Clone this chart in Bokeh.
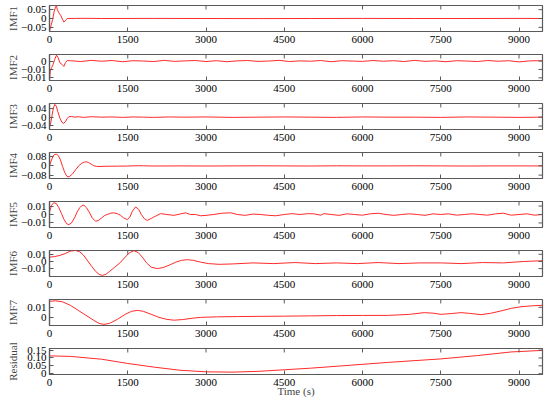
import math
from bokeh.plotting import figure
from bokeh.layouts import column
from bokeh.models import Range1d, FixedTicker, CustomJSTickFormatter
from bokeh.embed import file_html
from bokeh.resources import INLINE

# ---------------- data ----------------
time_ticks = [0, 1500, 3000, 4500, 6000, 7500, 9000]
x_max = 9450

panel_labels = ["IMF1", "IMF2", "IMF3", "IMF4", "IMF5", "IMF6", "IMF7", "Residual"]

imf1_t = [0, 30, 60, 90, 115, 134, 150, 180, 220, 250, 275, 305, 340, 500, 700, 1000, 2000,
          3000, 4000, 5000, 6000, 7000, 8000, 9000, 9450]
imf1_v = [-0.072, -0.04, -0.005, 0.04, 0.065, 0.072, 0.05, 0.032, 0.015, -0.005, -0.02, -0.012,
          0.0, 0.0005, 0.001, 0.0, 0.0005, 0.0, -0.0005, 0.0, 0.0005, 0.0, 0.0, 0.0005, 0.0]

imf2_t = [0, 15, 40, 70, 100, 134, 165, 200, 240, 275, 305, 340,
          400, 600, 800, 1000, 1200, 1400, 1600, 1800, 2000, 2200, 2400, 2600, 2800,
          3000, 3200, 3400, 3600, 3800, 4000, 4200, 4400, 4600, 4800, 5000, 5200, 5400,
          5600, 5800, 6000, 6200, 6400, 6600, 6800, 7000, 7200, 7400, 7600, 7800, 8000,
          8200, 8400, 8600, 8800, 9000, 9200, 9400, 9450]
imf2_v = [-0.0115, -0.006, -0.004, -0.002, 0.001, 0.0035, 0.002, -0.001, -0.002, -0.0032, -0.001, 0.0003,
          0.0002, -0.0003, 0.0004, -0.0001, 0.0003, -0.0004, 0.0002, 0.0, -0.0003, 0.0004, -0.0002, 0.0001, 0.0003,
          -0.0003, 0.0002, -0.0004, 0.0001, 0.0003, -0.0002, 0.0, 0.0004, -0.0003, 0.0001, -0.0001, 0.0003, -0.0004,
          0.0002, 0.0, -0.0002, 0.0003, -0.0001, 0.0002, -0.0003, 0.0004, -0.0002, 0.0001, -0.0004, 0.0002, 0.0,
          -0.0003, 0.0003, -0.0001, 0.0002, -0.0005, 0.0001, 0.0002, 0.0]

imf3_t = [0, 25, 50, 75, 102, 130, 160, 200, 240, 275, 310, 340, 371, 420, 480, 550, 650, 800,
          1000, 1200, 1400, 1600, 1800, 2000, 2300, 2600, 3000, 3500, 4000, 4500, 5000, 5500,
          6000, 6500, 7000, 7500, 8000, 8500, 9000, 9450]
imf3_v = [-0.046, -0.025, 0.01, 0.042, 0.058, 0.05, 0.025, -0.005, -0.024, -0.028, -0.018,
          -0.006, 0.002, 0.003, 0.0, 0.002, -0.001, 0.002, 0.0, 0.001, -0.001, 0.001, 0.0, -0.001,
          0.001, 0.0, 0.001, -0.001, 0.0, 0.001, 0.0, -0.001, 0.001, 0.0, 0.0, -0.001, 0.001, 0.0,
          -0.001, 0.0]

imf4_t = [0, 30, 60, 90, 130, 170, 210, 250, 290, 330, 355, 390, 440, 500, 560, 620, 670, 705,
          750, 800, 850, 900, 950, 1100, 1300, 1500, 1700, 1800, 2000, 2500, 3000, 3500, 4000,
          4500, 5000, 5500, 6000, 6500, 7000, 7500, 8000, 8500, 9000, 9450]
imf4_v = [0.0, 0.04, 0.075, 0.095, 0.1, 0.088, 0.05, -0.005, -0.055, -0.088, -0.095, -0.09,
          -0.07, -0.035, 0.0, 0.022, 0.032, 0.034, 0.028, 0.014, 0.0, -0.005, -0.006, -0.004,
          -0.003, -0.002, 0.001, 0.0, -0.002, -0.001, -0.002, -0.001, 0.0, -0.001, -0.002, 0.0,
          -0.001, -0.001, 0.0, -0.001, -0.002, -0.001, -0.001, -0.001]

imf5_t = [0, 40, 83, 130, 180, 230, 280, 330, 371, 420, 480, 530, 580, 620, 659, 710, 760, 820,
          883, 940, 1000, 1060, 1107, 1170, 1228, 1300, 1362, 1420, 1491, 1540, 1590, 1650, 1710,
          1760, 1820, 1874, 1940, 2000, 2128, 2250, 2384, 2500, 2608, 2700, 2800, 2900, 3000,
          3150, 3300, 3474, 3600, 3750, 3900, 4050, 4200, 4337, 4500, 4650, 4800, 4950, 5066,
          5200, 5260, 5400, 5550, 5700, 5850, 6000, 6150, 6300, 6450, 6600, 6750, 6900, 7050,
          7200, 7350, 7500, 7650, 7800, 7950, 8100, 8250, 8400, 8550, 8700, 8850, 9000, 9150,
          9300, 9450]
imf5_v = [0.003, 0.011, 0.014, 0.013, 0.008, 0.001, -0.006, -0.011, -0.012, -0.01, -0.004,
          0.003, 0.008, 0.0105, 0.011, 0.008, 0.003, -0.004, -0.008, -0.007, -0.004, -0.001, 0.0,
          0.0015, 0.002, 0.001, -0.001, -0.004, -0.006, -0.003, 0.004, 0.009, 0.006, 0.0, -0.005,
          -0.007, -0.005, -0.003, 0.001, 0.0, -0.001, 0.0005, 0.002, 0.0, 0.0, -0.0015, -0.001,
          0.0, 0.0015, 0.002, 0.0, -0.001, 0.0005, 0.0, -0.001, -0.0015, 0.0, 0.001, 0.0, 0.001,
          0.0008, -0.0008, 0.001, 0.0, -0.001, 0.0008, 0.0, -0.0008, 0.0008, 0.0015, 0.0, -0.001,
          0.0, 0.0008, 0.0, -0.001, 0.0008, 0.0, 0.0008, -0.0008, 0.0, 0.0008, 0.0, -0.0008,
          0.0008, 0.0015, -0.0008, 0.0, 0.0008, -0.0008, 0.0]

imf6_t = [0, 100, 200, 300, 400, 499, 580, 650, 720, 800, 880, 950, 1011, 1080, 1150, 1250,
          1350, 1450, 1530, 1618, 1700, 1780, 1860, 1950, 2066, 2180, 2300, 2420, 2530, 2642,
          2760, 2900, 3050, 3250, 3500, 3900, 4300, 4700, 5100, 5500, 5900, 6300, 6700, 7100,
          7500, 7900, 8300, 8700, 9100, 9450]
imf6_v = [0.006, 0.0068, 0.0085, 0.011, 0.0145, 0.0153, 0.0135, 0.009, 0.002, -0.006, -0.0135,
          -0.018, -0.0195, -0.018, -0.014, -0.008, -0.002, 0.006, 0.012, 0.015, 0.0125, 0.006,
          -0.002, -0.008, -0.01, -0.0085, -0.005, -0.001, 0.0015, 0.0025, 0.0015, -0.001, -0.003,
          -0.004, -0.0035, -0.002, -0.003, -0.0015, -0.003, -0.002, -0.003, -0.0015, -0.003,
          -0.002, -0.002, -0.003, -0.0015, -0.002, 0.0, 0.001]

imf7_t = [0, 115, 250, 400, 550, 700, 850, 950, 1043, 1150, 1300, 1450, 1570, 1683, 1800,
          1950, 2100, 2250, 2384, 2550, 2750, 2897, 3200, 3600, 4000, 4500, 5000, 5500, 6000,
          6500, 6900, 7183, 7350, 7503, 7700, 7887, 8050, 8271, 8450, 8655, 8850, 9039, 9250,
          9450]
imf7_v = [0.016, 0.0165, 0.0155, 0.012, 0.007, 0.002, -0.003, -0.006, -0.007, -0.006, -0.002,
          0.003, 0.006, 0.007, 0.006, 0.003, 0.0, -0.002, -0.0028, -0.0022, -0.0008, 0.0, 0.0005,
          0.0008, 0.001, 0.0012, 0.0015, 0.0018, 0.0019, 0.002, 0.003, 0.0047, 0.0042, 0.003,
          0.0038, 0.0047, 0.004, 0.0027, 0.004, 0.0064, 0.009, 0.0106, 0.0115, 0.012]

res_t = [0, 400, 1000, 1500, 2000, 2500, 3000, 3500, 4000, 4500, 5000, 5776, 6500, 7503,
         8200, 8847, 9450]
res_v = [0.113, 0.11, 0.092, 0.065, 0.042, 0.022, 0.012, 0.01, 0.015, 0.025, 0.035, 0.054,
         0.072, 0.094, 0.115, 0.138, 0.148]

imf1_yticks = [-0.05, 0, 0.05]
imf1_ylabels = ["\u22120.05", "0", "0.05"]
imf2_yticks = [-0.01, -0.005, 0]
imf2_ylabels = ["\u22120.01", "\u22120.01", "0"]
imf3_yticks = [-0.04, 0, 0.04]
imf3_ylabels = ["\u22120.04", "0", "0.04"]
imf4_yticks = [-0.08, 0, 0.08]
imf4_ylabels = ["\u22120.08", "0", "0.08"]
imf5_yticks = [-0.01, 0, 0.01]
imf5_ylabels = ["\u22120.01", "0", "0.01"]
imf6_yticks = [-0.01, 0, 0.01]
imf6_ylabels = ["\u22120.01", "0", "0.01"]
imf7_yticks = [0, 0.01]
imf7_ylabels = ["0", "0.01"]
res_yticks = [0, 0.05, 0.10, 0.15]
res_ylabels = ["0", "0.05", "0.10", "0.15"]

y_ranges = [(-0.0735, 0.0735), (-0.0116, 0.0039), (-0.056, 0.062), (-0.109, 0.114),
            (-0.0154, 0.0154), (-0.021, 0.0153), (-0.0081, 0.0178), (-0.005, 0.16)]

series = [(imf1_t, imf1_v), (imf2_t, imf2_v), (imf3_t, imf3_v), (imf4_t, imf4_v),
          (imf5_t, imf5_v), (imf6_t, imf6_v), (imf7_t, imf7_v), (res_t, res_v)]
yticks = [imf1_yticks, imf2_yticks, imf3_yticks, imf4_yticks, imf5_yticks, imf6_yticks,
          imf7_yticks, res_yticks]
ylabels = [imf1_ylabels, imf2_ylabels, imf3_ylabels, imf4_ylabels, imf5_ylabels,
           imf6_ylabels, imf7_ylabels, res_ylabels]

# ---------------- style ----------------
FONT = "'Liberation Serif', serif"
FS = "11px"
LINE = "#ff2a2a"
FRAME = "#5a5a5a"
FRAME_W = 1.2
TICK = 4

fmt_code = """
for (let i = 0; i < tvals.length; i++) {
  if (Math.abs(tick - tvals[i]) < 1e-9) return tlabels[i];
}
return '';
"""

TOP = 10
FRAME_H = 26
STEP = 49


def make_panel(i):
    last = i == len(panel_labels) - 1
    bottom = 27 if last else 23
    h = TOP + FRAME_H + bottom
    if i == 0:
        mtop = -5
    else:
        mtop = STEP - (TOP + FRAME_H + 23)
    p = figure(width=542, height=h, x_range=Range1d(0, x_max),
               y_range=Range1d(*y_ranges[i]), output_backend="svg",
               toolbar_location=None, min_border_left=44, min_border_right=4,
               min_border_top=TOP, min_border_bottom=bottom,
               margin=(mtop, 0, 0, 4))
    t, v = series[i]
    p.line(t, v, line_color=LINE, line_width=1)
    p.xgrid.visible = False
    p.ygrid.visible = False
    p.outline_line_color = FRAME
    p.outline_line_width = FRAME_W
    p.background_fill_color = None
    p.border_fill_color = None

    # bottom axis
    xa = p.xaxis[0]
    xa.ticker = FixedTicker(ticks=time_ticks)
    xa.minor_tick_line_color = None
    xa.major_tick_in = TICK
    xa.major_tick_out = 0
    xa.major_tick_line_color = FRAME
    xa.axis_line_color = FRAME
    xa.axis_line_width = FRAME_W
    xa.major_label_standoff = 4
    xa.major_label_text_font = FONT
    xa.major_label_text_font_size = FS
    xa.major_label_text_color = "black"
    if last:
        xa.axis_label = "Time (s)"
        xa.axis_label_text_font = FONT
        xa.axis_label_text_font_size = FS
        xa.axis_label_text_font_style = "normal"
        xa.axis_label_standoff = -4

    # left axis
    ya = p.yaxis[0]
    ya.ticker = FixedTicker(ticks=yticks[i])
    ya.formatter = CustomJSTickFormatter(args=dict(tvals=yticks[i], tlabels=ylabels[i]),
                                         code=fmt_code)
    ya.minor_tick_line_color = None
    ya.major_tick_in = TICK
    ya.major_tick_out = 0
    ya.major_tick_line_color = FRAME
    ya.axis_line_color = FRAME
    ya.axis_line_width = FRAME_W
    ya.major_label_standoff = 3
    ya.major_label_text_font = FONT
    ya.major_label_text_font_size = FS
    ya.major_label_text_color = "black"
    ya.axis_label = panel_labels[i]
    ya.axis_label_text_font = FONT
    ya.axis_label_text_font_size = FS
    ya.axis_label_text_font_style = "normal"
    ya.axis_label_standoff = 5 if i >= 6 else -1

    # mirrored tick marks on the top and right edges of the frame
    y_top = y_ranges[i][1]
    p.ray(x=time_ticks, y=[y_top] * len(time_ticks), length=TICK, length_units="screen",
          angle=-math.pi / 2, line_color=FRAME, line_width=1)
    p.ray(x=[x_max] * len(yticks[i]), y=yticks[i], length=TICK, length_units="screen",
          angle=math.pi, line_color=FRAME, line_width=1)
    return p


panels = [make_panel(i) for i in range(len(panel_labels))]
layout = column(*panels, spacing=0)

open("out.html", "w").write(file_html(layout, INLINE))
